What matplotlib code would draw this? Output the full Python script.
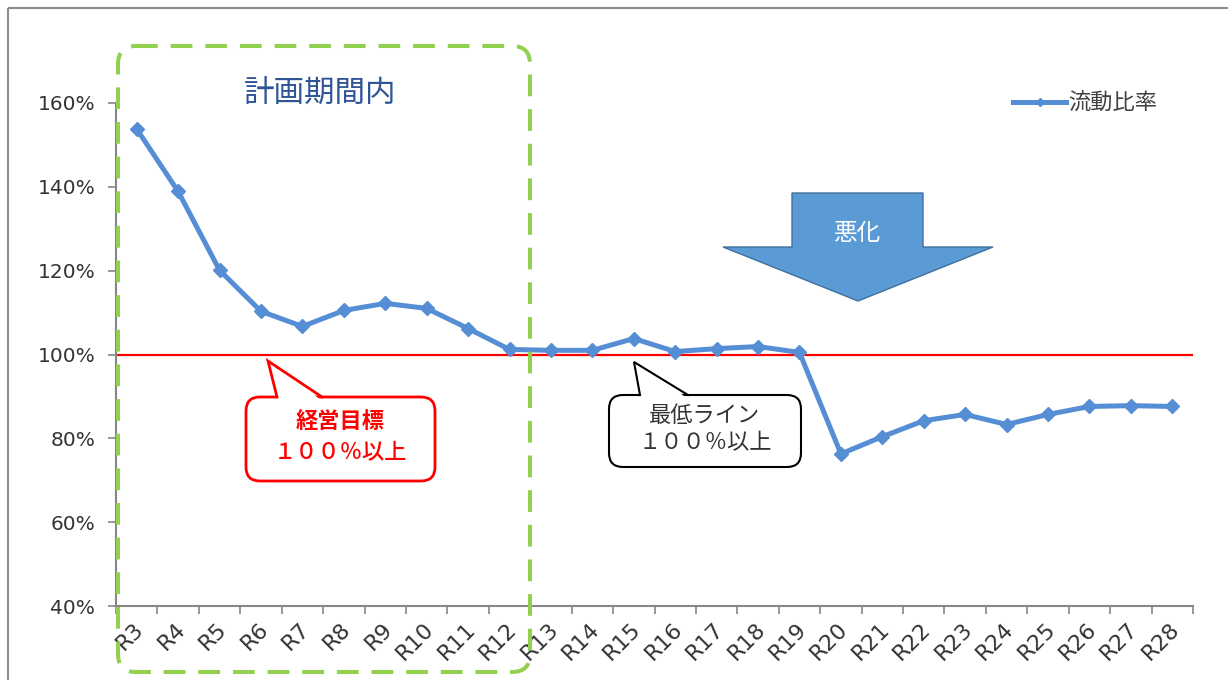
import numpy as np
import matplotlib
matplotlib.use("Agg")
import matplotlib.pyplot as plt
from matplotlib.patches import FancyBboxPatch, Polygon, Rectangle
from matplotlib.transforms import ScaledTranslation

plt.rcParams['font.family'] = ['Noto Sans CJK JP', 'DejaVu Sans']

# data
years = ["R3", "R4", "R5", "R6", "R7", "R8", "R9", "R10", "R11", "R12", "R13",
         "R14", "R15", "R16", "R17", "R18", "R19", "R20", "R21", "R22", "R23",
         "R24", "R25", "R26", "R27", "R28"]
current_ratio = [1.538, 1.389, 1.201, 1.103, 1.067, 1.105, 1.122, 1.110, 1.062,
                 1.012, 1.010, 1.010, 1.038, 1.007, 1.014, 1.019, 1.005, 0.763,
                 0.804, 0.842, 0.857, 0.833, 0.857, 0.876, 0.878, 0.876]
target = 1.0
y_ticks = [0.4, 0.6, 0.8, 1.0, 1.2, 1.4, 1.6]

W, H = 1228, 680
fig = plt.figure(figsize=(W / 100, H / 100), dpi=100)
fig.patch.set_facecolor('white')

ax = fig.add_axes([116 / W, 1 - 606 / H, (1193 - 116) / W, (606 - 103) / H])
x = np.arange(len(years))

ax.axhline(target, color='#FF0000', lw=1.6, zorder=2)
ax.plot(x, current_ratio, color='#558ED5', lw=3.6, marker='D', markersize=7.5,
        zorder=3, label='流動比率')

ax.set_xlim(-0.5, len(years) - 0.5)
ax.set_ylim(0.4, 1.6)
ax.set_yticks(y_ticks)
ax.set_yticklabels([f"{int(round(v * 100))}%" for v in y_ticks],
                   fontfamily='DejaVu Sans', fontsize=14.5, color='#333333')
ax.set_xticks(x)
ax.set_xticklabels(years, fontfamily='DejaVu Sans', fontsize=16, color='#333333',
                   rotation=45, rotation_mode='anchor', ha='right', va='top')
ax.set_xticks(np.arange(len(years) + 1) - 0.5, minor=True)
ax.tick_params(axis='x', which='major', length=0, pad=9)
ax.tick_params(axis='x', which='minor', length=6, width=1.2, color='#868686', direction='out')
ax.tick_params(axis='y', length=6, width=1.2, color='#868686', direction='out', pad=9)
for lbl in ax.get_xticklabels():
    lbl.set_transform(lbl.get_transform() + ScaledTranslation(-0.03, 0, fig.dpi_scale_trans))

for side in ['top', 'right']:
    ax.spines[side].set_visible(False)
for side in ['left', 'bottom']:
    ax.spines[side].set_color('#868686')
    ax.spines[side].set_linewidth(1.5)

leg = ax.legend(loc='center left', bbox_to_anchor=(1013 / W, 1 - 103 / H),
                bbox_transform=fig.transFigure, frameon=False, fontsize=16,
                handlelength=2.4, handletextpad=0.1, borderpad=0, borderaxespad=0,
                numpoints=1, markerscale=0.6)
for t in leg.get_texts():
    t.set_color('#404040')

# overlay in pixel units for the drawn shapes
ov = fig.add_axes([0, 0, 1, 1], zorder=5)
ov.set_xlim(0, W)
ov.set_ylim(H, 0)
ov.axis('off')
ov.patch.set_alpha(0)

ov.add_patch(Rectangle((8, 8), W + 50, H + 50, fc='none', ec='#8C8C8C', lw=1.5))

# planning period box
ov.add_patch(FancyBboxPatch((118, 46), 530 - 118, 672 - 46,
                            boxstyle='round,pad=0,rounding_size=18',
                            fc='none', ec='#92D050', lw=2.9,
                            linestyle=(0, (5.4, 3.2))))
ov.text(320, 93, '計画期間内', fontsize=22, color='#2F5597', ha='center', va='center')

# worsening arrow
ov.add_patch(Polygon([(792, 193), (923, 193), (923, 247), (993, 247), (858, 301),
                      (723, 247), (792, 247)], closed=True,
                     fc='#5B9BD5', ec='#41719C', lw=1))
ov.text(858, 234, '悪化', fontsize=17, color='white', ha='center', va='center')


def callout(x0, y0, x1, y1, bl, br, tip, ec, lw, lines, color):
    ov.add_patch(FancyBboxPatch((x0, y0), x1 - x0, y1 - y0,
                                boxstyle='round,pad=0,rounding_size=14',
                                fc='white', ec=ec, lw=lw, zorder=1))
    ov.add_patch(Polygon([(bl + 1, y0 + 3), tip, (br - 1, y0 + 3)], closed=True,
                         fc='white', ec='none', zorder=2))
    ov.plot([bl, tip[0], br], [y0, tip[1], y0], color=ec, lw=lw, zorder=3,
            solid_joinstyle='miter')
    cx = (x0 + x1) / 2
    for (txt, ty, weight) in lines:
        ov.text(cx, ty, txt, fontsize=16, color=color, ha='center', va='center',
                fontweight=weight, zorder=4)


callout(246, 397, 435, 481, 277, 322, (268, 361), '#FF0000', 2.0,
        [('経営目標', 422, 'bold'), ('１００％以上', 453, 'medium')], '#FF0000')
callout(609, 395, 801, 467, 640, 688, (634, 362), '#000000', 1.5,
        [('最低ライン', 415, 'normal'), ('１００％以上', 443, 'normal')], '#333333')

fig.savefig('out.png', dpi=100)
